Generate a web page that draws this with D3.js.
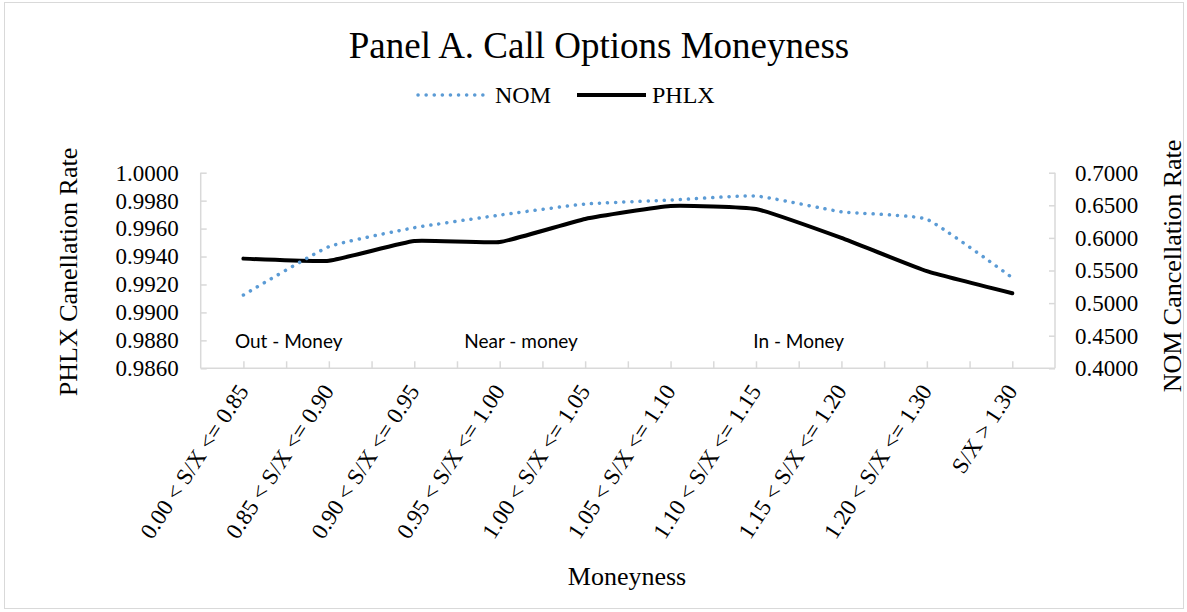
<!DOCTYPE html>
<html><head><meta charset="utf-8">
<script src="https://cdn.jsdelivr.net/npm/d3@7"></script>
<style>body{margin:0;background:#fff}svg{display:block}</style></head>
<body><svg id="chart" width="1187" height="612"></svg>
<script>
const categories = ["0.00 < S/X <= 0.85","0.85 < S/X <= 0.90","0.90 < S/X <= 0.95","0.95 < S/X <= 1.00","1.00 < S/X <= 1.05","1.05 < S/X <= 1.10","1.10 < S/X <= 1.15","1.15 < S/X <= 1.20","1.20 < S/X <= 1.30","S/X > 1.30"];
const nomValues  = [0.5124, 0.5865, 0.6156, 0.6350, 0.6520, 0.6580, 0.6643, 0.6400, 0.6285, 0.5390];
const phlxValues = [0.99385, 0.99370, 0.99511, 0.99504, 0.99669, 0.99762, 0.99740, 0.99533, 0.99295, 0.99137];
const leftTicks  = [0.986, 0.988, 0.990, 0.992, 0.994, 0.996, 0.998, 1.000];
const rightTicks = [0.40, 0.45, 0.50, 0.55, 0.60, 0.65, 0.70];
const zoneLabels = ["Out - Money", "Near - money", "In - Money"];
const zoneCenters = [0.53, 3.25, 6.5];
const titleText = "Panel A. Call Options Moneyness";
const seriesNames = ["NOM", "PHLX"];

const svg = d3.select("#chart");
const L = 200.7, R = 1055, T = 172.7, B = 368.3;
const grey = "#d9d9d9", blue = "#5b9bd5";
const serif = "'Liberation Serif','Times New Roman',serif";

svg.append("rect").attr("x",4.5).attr("y",2.5).attr("width",1179).attr("height",606)
  .attr("fill","#fff").attr("stroke",grey).attr("stroke-width",1);

const x = d3.scaleBand().domain(categories).range([L, R]).padding(0);
const xc = d => x(d) + x.bandwidth()/2;
const xi = d3.scaleLinear().domain([-0.5, categories.length - 0.5]).range([L, R]);
const yL = d3.scaleLinear().domain([0.986, 1.000]).range([B, T]);
const yR = d3.scaleLinear().domain([0.40, 0.70]).range([B, T]);

const gL = svg.append("g").attr("transform", `translate(${L},0)`)
  .call(d3.axisLeft(yL).tickValues(leftTicks).tickSize(-6).tickPadding(22).tickFormat(d3.format(".4f")));
const gR = svg.append("g").attr("transform", `translate(${R},0)`)
  .call(d3.axisRight(yR).tickValues(rightTicks).tickSize(-6).tickPadding(20).tickFormat(d3.format(".4f")));
const gB = svg.append("g").attr("transform", `translate(0,${B})`)
  .call(d3.axisBottom(xi).tickValues(d3.range(0, categories.length - 0.99, 0.5)).tickSize(-7).tickFormat(""));
[gL, gR, gB].forEach(g => {
  g.select(".domain").attr("stroke", grey).attr("stroke-width", 1.5);
  g.selectAll(".tick line").attr("stroke", grey).attr("stroke-width", 1.5);
  g.selectAll("text").attr("font-family", serif).attr("font-size", 23).attr("fill", "#000");
});
gB.select(".domain").attr("d", `M${L},0H${R}`);
gL.select(".domain").attr("d", `M0,${B}V${T}`);
gR.select(".domain").attr("d", `M0,${B}V${T}`);

svg.append("g").selectAll("text").data(categories).join("text")
  .attr("transform", d => `translate(${xc(d)+6},${391}) rotate(-57)`)
  .attr("text-anchor","end")
  .attr("font-family", serif).attr("font-size", 23).attr("fill","#000")
  .text(d => d);

svg.append("g").selectAll("text").data(zoneLabels).join("text")
  .attr("x", (d,i) => xi(zoneCenters[i])).attr("y", 348)
  .attr("text-anchor","middle")
  .attr("font-family","Lato,'Open Sans',sans-serif").attr("font-size", 19).attr("fill","#000")
  .text(d => d);

const curve = d3.curveCardinal.tension(0.6);
const lineN = d3.line().x((d,i) => xc(categories[i])).y(d => yR(d)).curve(curve);
const lineP = d3.line().x((d,i) => xc(categories[i])).y(d => yL(d)).curve(curve);

svg.append("path").attr("d", lineP(phlxValues)).attr("fill","none")
  .attr("stroke","#000").attr("stroke-width",4).attr("stroke-linejoin","round").attr("stroke-linecap","round");
svg.append("path").attr("d", lineN(nomValues)).attr("fill","none")
  .attr("stroke",blue).attr("stroke-width",3.5).attr("stroke-linecap","round")
  .attr("stroke-dasharray","0.1 8");

svg.append("text").attr("x", 599).attr("y", 58).attr("text-anchor","middle")
  .attr("font-family", serif).attr("font-size", 37).attr("fill","#000").text(titleText);

const lg = svg.append("g");
lg.append("line").attr("x1",418).attr("x2",487).attr("y1",95).attr("y2",95)
  .attr("stroke",blue).attr("stroke-width",3.5).attr("stroke-linecap","round").attr("stroke-dasharray","0.1 8");
lg.append("text").attr("x",495).attr("y",103).attr("font-family",serif).attr("font-size",24).text(seriesNames[0]);
lg.append("line").attr("x1",577).attr("x2",646).attr("y1",95).attr("y2",95)
  .attr("stroke","#000").attr("stroke-width",4);
lg.append("text").attr("x",652).attr("y",103).attr("font-family",serif).attr("font-size",24).text(seriesNames[1]);

svg.append("text").attr("transform","translate(77,272) rotate(-90)").attr("text-anchor","middle")
  .attr("font-family",serif).attr("font-size",26).text("PHLX Canellation Rate");
svg.append("text").attr("transform","translate(1181,266) rotate(-90)").attr("text-anchor","middle")
  .attr("font-family",serif).attr("font-size",26).text("NOM Cancellation Rate");
svg.append("text").attr("x",627).attr("y",585).attr("text-anchor","middle")
  .attr("font-family",serif).attr("font-size",26).text("Moneyness");
</script>
</body></html>
